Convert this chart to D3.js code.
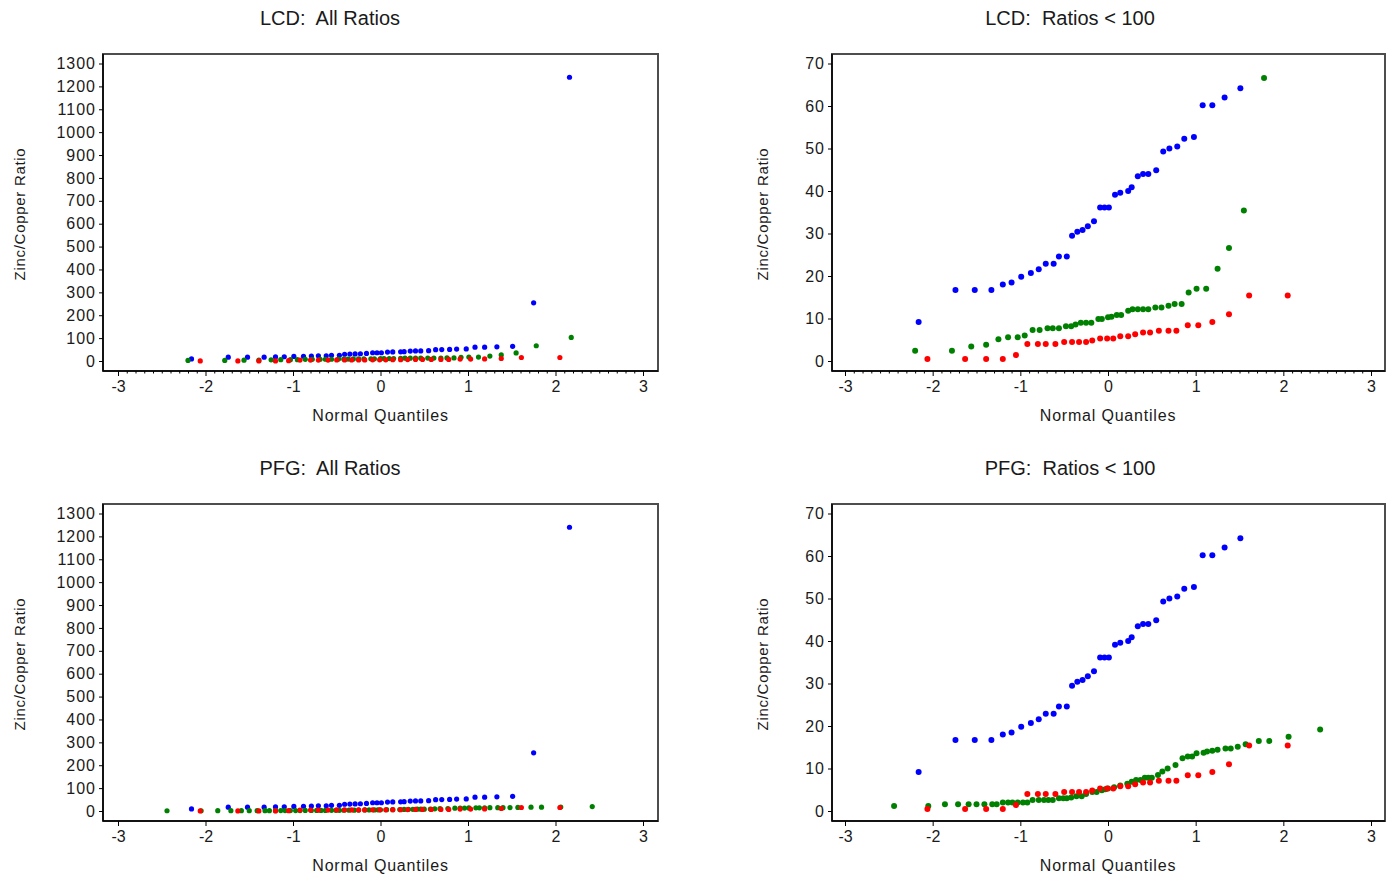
<!DOCTYPE html>
<html>
<head>
<meta charset="utf-8">
<script src="https://cdn.jsdelivr.net/npm/d3@7"></script>
<style>
  body { margin: 0; background: #fff; }
  svg text { font-family: "Liberation Sans", Arial, sans-serif; fill: #1a1a1a; }
</style>
</head>
<body>
<script>
// [normal quantile, zinc/copper ratio] pairs
const blueRatios = [
  [-2.16, 9.2], [-1.74, 16.7], [-1.52, 16.7], [-1.33, 16.7], [-1.20, 18.0], [-1.10, 18.5],
  [-0.99, 19.8], [-0.88, 20.7], [-0.79, 21.6], [-0.71, 22.9], [-0.62, 22.9], [-0.56, 24.6],
  [-0.47, 24.6], [-0.41, 29.5], [-0.35, 30.4], [-0.29, 30.8], [-0.23, 31.7], [-0.16, 32.9],
  [-0.09, 36.1], [-0.04, 36.1], [0.01, 36.1], [0.08, 39.1], [0.14, 39.6], [0.23, 40.0],
  [0.27, 40.9], [0.34, 43.5], [0.40, 44.0], [0.46, 44.0], [0.55, 44.9], [0.63, 49.3],
  [0.70, 50.0], [0.79, 50.5], [0.87, 52.3], [0.98, 52.7], [1.08, 60.2], [1.19, 60.2],
  [1.33, 62.0], [1.51, 64.2], [1.75, 254], [2.16, 1240]
];

const redRatios = [
  [-2.06, 0.5], [-1.63, 0.5], [-1.39, 0.5], [-1.20, 0.5], [-1.05, 1.4], [-0.92, 4.0],
  [-0.80, 4.0], [-0.71, 4.0], [-0.60, 4.0], [-0.50, 4.5], [-0.41, 4.5], [-0.33, 4.5],
  [-0.25, 4.5], [-0.18, 4.8], [-0.09, 5.3], [-0.01, 5.3], [0.06, 5.3], [0.14, 5.8],
  [0.23, 5.8], [0.31, 6.3], [0.40, 6.7], [0.48, 6.7], [0.58, 7.1], [0.69, 7.1],
  [0.78, 7.1], [0.91, 8.4], [1.03, 8.4], [1.19, 9.2], [1.38, 11.0], [1.61, 15.4],
  [2.05, 15.4]
];

const greenLCD = [
  [-2.20, 2.4], [-1.78, 2.4], [-1.56, 3.4], [-1.39, 3.8], [-1.25, 5.1], [-1.14, 5.6],
  [-1.03, 5.6], [-0.95, 6.0], [-0.86, 7.3], [-0.78, 7.3], [-0.69, 7.7], [-0.63, 7.7],
  [-0.56, 7.7], [-0.48, 8.2], [-0.42, 8.2], [-0.37, 8.6], [-0.31, 9.0], [-0.25, 9.0],
  [-0.19, 9.0], [-0.11, 9.9], [-0.07, 9.9], [0.0, 10.3], [0.04, 10.4], [0.10, 10.8],
  [0.15, 10.8], [0.23, 11.8], [0.28, 12.2], [0.34, 12.2], [0.40, 12.2], [0.46, 12.2],
  [0.54, 12.6], [0.61, 12.6], [0.69, 13.0], [0.76, 13.4], [0.84, 13.4], [0.92, 16.1],
  [1.01, 17.0], [1.12, 17.0], [1.25, 21.7], [1.38, 26.6], [1.55, 35.4], [1.78, 66.6],
  [2.18, 103]
];

const greenPFG = [
  [-2.44, 1.2], [-2.05, 1.2], [-1.86, 1.6], [-1.71, 1.6], [-1.59, 1.6], [-1.50, 1.6],
  [-1.41, 1.6], [-1.32, 1.6], [-1.27, 1.6], [-1.20, 2.0], [-1.14, 2.0], [-1.09, 2.0],
  [-1.03, 2.0], [-0.97, 2.0], [-0.92, 2.0], [-0.86, 2.6], [-0.79, 2.6], [-0.73, 2.6],
  [-0.68, 2.6], [-0.63, 2.6], [-0.56, 3.0], [-0.51, 3.0], [-0.47, 3.0], [-0.42, 3.2],
  [-0.36, 3.5], [-0.30, 3.5], [-0.25, 4.0], [-0.18, 4.5], [-0.13, 4.5], [-0.07, 4.9],
  [-0.03, 5.1], [0.0, 5.3], [0.07, 5.6], [0.14, 6.0], [0.22, 6.4], [0.27, 6.9],
  [0.32, 7.3], [0.37, 7.3], [0.42, 7.8], [0.46, 7.8], [0.50, 7.8], [0.57, 8.5],
  [0.62, 9.3], [0.68, 10.0], [0.77, 10.8], [0.85, 12.4], [0.91, 12.8], [0.96, 12.8],
  [1.01, 13.6], [1.09, 13.7], [1.13, 14.0], [1.19, 14.2], [1.25, 14.4], [1.34, 14.7],
  [1.40, 14.7], [1.48, 15.1], [1.57, 15.7], [1.72, 16.5], [1.84, 16.5], [2.06, 17.5],
  [2.42, 19.2]
];

const xTicks = [-3, -2, -1, 0, 1, 2, 3];
const yTicksAll = d3.range(0, 1301, 100);
const yTicksLow = d3.range(0, 71, 10);

const width = 1386, height = 875;

// plain hyphen minus, no thousands separator
const plainNum = d => String(d);

const svg = d3.select("body").append("svg")
  .attr("width", width)
  .attr("height", height);

// column layouts: frame box, pixel spots of x = -3 / 3, title centre
const cols = [
  { frameL: 103, frameR: 658, xAt: [118, 643], titleX: 330, yTitleX: 20, r: 2.6, yTicks: yTicksAll, yMax: 1300 },
  { frameL: 832, frameR: 1385, xAt: [845, 1371], titleX: 1070, yTitleX: 763, r: 3, yTicks: yTicksLow, yMax: 70 }
];

const panels = [
  { col: 0, dy: 0, title: "LCD:  All Ratios", green: greenLCD, cap: Infinity, minor: true },
  { col: 1, dy: 0, title: "LCD:  Ratios < 100", green: greenLCD, cap: 100, minor: true },
  { col: 0, dy: 450, title: "PFG:  All Ratios", green: greenPFG, cap: Infinity, minor: false },
  { col: 1, dy: 450, title: "PFG:  Ratios < 100", green: greenPFG, cap: 100, minor: false }
];

panels.forEach(p => drawPanel(p, cols[p.col]));

function drawPanel(p, c) {
  const top = 54 + p.dy, bottom = 371 + p.dy;
  const x = d3.scaleLinear().domain([-3, 3]).range(c.xAt);
  const y = d3.scaleLinear().domain([0, c.yMax]).range([361 + p.dy, 63.5 + p.dy]);

  const g = svg.append("g");

  // title
  g.append("text")
    .attr("x", c.titleX)
    .attr("y", 25 + p.dy)
    .attr("text-anchor", "middle")
    .style("font-size", "20px")
    .style("white-space", "pre")
    .attr("xml:space", "preserve")
    .text(p.title);

  // frame
  g.append("rect")
    .attr("x", c.frameL)
    .attr("y", top)
    .attr("width", c.frameR - c.frameL)
    .attr("height", bottom - top)
    .attr("fill", "none")
    .attr("stroke", "#4d4d4d")
    .attr("stroke-width", 2);

  // x axis
  const xAxis = g.append("g")
    .attr("transform", `translate(0,${bottom})`)
    .call(d3.axisBottom(x).tickValues(xTicks).tickSize(5).tickPadding(5).tickFormat(plainNum));
  xAxis.select(".domain")
    .attr("d", `M${c.frameL},0H${c.frameR}`)
    .attr("stroke", "#000")
    .attr("stroke-width", 1.5);
  xAxis.selectAll("text")
    .style("font-size", "16px")
    .attr("fill", "#1a1a1a")
    .attr("font-family", null);

  if (p.minor) {
    const minors = d3.range(-30, 31).filter(d => d % 10 !== 0).map(d => d / 10);
    const m = g.append("g")
      .attr("transform", `translate(0,${bottom})`)
      .call(d3.axisBottom(x).tickValues(minors).tickSize(2.5).tickFormat(""));
    m.select(".domain").remove();
  }

  // y axis
  const yAxis = g.append("g")
    .attr("transform", `translate(${c.frameL},0)`)
    .call(d3.axisLeft(y).tickValues(c.yTicks).tickSize(4).tickPadding(3).tickFormat(plainNum));
  yAxis.select(".domain")
    .attr("d", `M0,${top}V${bottom}`)
    .attr("stroke", "#000")
    .attr("stroke-width", 1.5);
  yAxis.selectAll("text")
    .style("font-size", "16px")
    .style("letter-spacing", "1px")
    .attr("fill", "#1a1a1a")
    .attr("font-family", null);

  // axis titles
  g.append("text")
    .attr("x", (x(-3) + x(3)) / 2)
    .attr("y", 421 + p.dy)
    .attr("text-anchor", "middle")
    .style("font-size", "16px")
    .style("letter-spacing", "0.8px")
    .text("Normal Quantiles");

  g.append("text")
    .attr("transform", `translate(${c.yTitleX + 5},${214 + p.dy}) rotate(-90)`)
    .attr("text-anchor", "middle")
    .style("font-size", "15px")
    .style("letter-spacing", "0.7px")
    .text("Zinc/Copper Ratio");

  // points
  const series = [
    { data: blueRatios, color: "#0000ff" },
    { data: p.green, color: "#008000" },
    { data: redRatios, color: "#ff0000" }
  ];
  series.forEach(s => {
    g.append("g")
      .selectAll("circle")
      .data(s.data.filter(d => d[1] < p.cap))
      .join("circle")
      .attr("cx", d => x(d[0]))
      .attr("cy", d => y(d[1]))
      .attr("r", c.r)
      .attr("fill", s.color);
  });
}
</script>
</body>
</html>
